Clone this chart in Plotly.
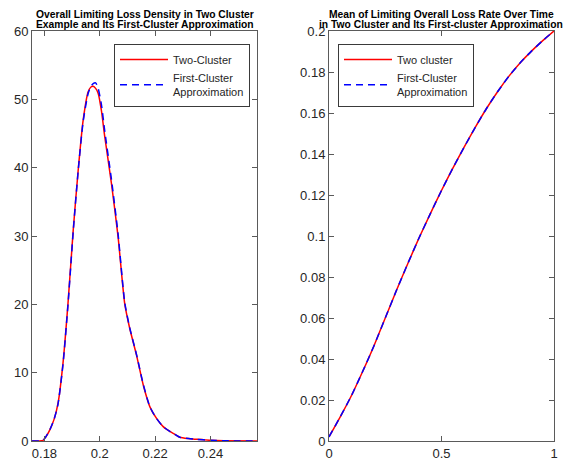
import plotly.graph_objects as go

# ---- Data: left panel (loss density) ----
loss_x = [0.1755, 0.178, 0.1795, 0.1805, 0.1819, 0.1835, 0.1849, 0.1867, 0.1885, 0.1904,
          0.1922, 0.1940, 0.1958, 0.1968, 0.1976, 0.1985, 0.1994, 0.2006, 0.2018, 0.2042,
          0.2066, 0.2090, 0.2108, 0.2133, 0.2157, 0.2181, 0.2205, 0.2229, 0.2253, 0.2270,
          0.2289, 0.2320, 0.2349, 0.2398, 0.2450, 0.2568]
density_two = [0, 0, 0.1, 0.6, 1.6, 3.2, 5.5, 11.4, 20.1, 30.9,
               39.7, 47.0, 51.1, 51.8, 51.9, 51.6, 50.9, 48.3, 44.5, 37.7,
               29.9, 20.1, 16.5, 12.5, 8.2, 5.0, 3.3, 2.1, 1.4, 1.0,
               0.55, 0.35, 0.25, 0.1, 0.03, 0]
density_first = [0, 0, 0.1, 0.6, 1.6, 3.2, 5.4, 11.2, 19.9, 30.7,
                 39.6, 46.8, 50.9, 51.9, 52.3, 52.4, 51.6, 49.2, 45.3, 38.3,
                 30.3, 20.3, 16.6, 12.6, 8.3, 5.0, 3.3, 2.1, 1.4, 1.0,
                 0.55, 0.35, 0.25, 0.1, 0.03, 0]

# ---- Data: right panel (mean loss rate over time) ----
time_t = [0, 0.05, 0.1, 0.15, 0.2, 0.25, 0.3, 0.35, 0.4, 0.45, 0.5, 0.55, 0.6, 0.65,
          0.7, 0.75, 0.8, 0.85, 0.9, 0.95, 1.0]
mean_two = [0.002, 0.0118, 0.0222, 0.0340, 0.0465, 0.0600, 0.0735, 0.0865, 0.0990, 0.1108,
            0.1222, 0.1330, 0.1432, 0.1530, 0.1622, 0.1705, 0.1780, 0.1845, 0.1902, 0.1953, 0.2]
mean_first = [0.002, 0.0118, 0.0222, 0.0340, 0.0465, 0.0600, 0.0735, 0.0865, 0.0990, 0.1108,
              0.1222, 0.1330, 0.1432, 0.1530, 0.1622, 0.1705, 0.1780, 0.1845, 0.1902, 0.1953, 0.2]

# ---- Tick labels ----
left_xticks = [0.18, 0.2, 0.22, 0.24]
left_xtext = ["0.18", "0.2", "0.22", "0.24"]
left_yticks = [0, 10, 20, 30, 40, 50, 60]
right_xticks = [0, 0.5, 1]
right_xtext = ["0", "0.5", "1"]
right_yticks = [0, 0.02, 0.04, 0.06, 0.08, 0.1, 0.12, 0.14, 0.16, 0.18, 0.2]
right_ytext = ["0", "0.02", "0.04", "0.06", "0.08", "0.1", "0.12", "0.14", "0.16", "0.18", "0.2"]

titles = [
    ["Overall Limiting Loss Density in Two Cluster", "Example and Its First-Cluster Approximation"],
    ["Mean of Limiting Overall Loss Rate Over Time", "in Two Cluster and Its First-cluster Approximation"],
]

FONT = "Liberation Sans, Arial, sans-serif"
TXT = "#262626"
AX = "#5a5a5a"
RED = "#FF0000"
BLUE = "#0000FF"

# page body has an 8px margin: figure is sized to fill the window after that offset
OFF = 8
W, H = 573 - OFF, 468 - OFF


def px(xp):
    return (xp - OFF) / W


def py(yp):
    return (468 - yp) / H


fig = go.Figure()
fig.add_trace(go.Scatter(x=loss_x, y=density_two, mode="lines", name="Two-Cluster",
                         line=dict(color=RED, width=1.5, shape="spline", smoothing=0.6),
                         xaxis="x", yaxis="y", legend="legend"))
fig.add_trace(go.Scatter(x=loss_x, y=density_first, mode="lines", name="First-Cluster<br>Approximation",
                         line=dict(color=BLUE, width=1.5, dash="7px,5px", shape="spline", smoothing=0.6),
                         xaxis="x", yaxis="y", legend="legend"))
fig.add_trace(go.Scatter(x=time_t, y=mean_two, mode="lines", name="Two cluster",
                         line=dict(color=RED, width=1.5, shape="spline", smoothing=0.6),
                         xaxis="x2", yaxis="y2", legend="legend2"))
fig.add_trace(go.Scatter(x=time_t, y=mean_first, mode="lines", name="First-Cluster<br>Approximation",
                         line=dict(color=BLUE, width=1.5, dash="7px,5px", shape="spline", smoothing=0.6),
                         xaxis="x2", yaxis="y2", legend="legend2"))

axis_common = dict(showline=True, linecolor=AX, linewidth=1, mirror="ticks", ticks="inside",
                   ticklen=5, tickcolor=AX, showgrid=False, zeroline=False, automargin=False,
                   tickfont=dict(family=FONT, size=13, color=TXT))

xd1 = [px(32), px(257)]
xd2 = [px(329), px(554)]
yd = [py(441), py(31)]

legend_common = dict(bgcolor="white", bordercolor="#3a3a3a", borderwidth=1,
                     font=dict(family=FONT, size=11, color=TXT), xanchor="left", yanchor="top",
                     itemwidth=48, tracegroupgap=0)

fig.update_layout(
    width=W, height=H,
    margin=dict(l=0, r=0, t=0, b=0, pad=0, autoexpand=False),
    paper_bgcolor="white", plot_bgcolor="white",
    showlegend=True,
    xaxis=dict(domain=xd1, range=[0.1755, 0.2568], tickvals=left_xticks, ticktext=left_xtext,
               anchor="y", **axis_common),
    yaxis=dict(domain=yd, range=[0, 60], tickvals=left_yticks, anchor="x", **axis_common),
    xaxis2=dict(domain=xd2, range=[0, 1], tickvals=right_xticks, ticktext=right_xtext,
                anchor="y2", **axis_common),
    yaxis2=dict(domain=yd, range=[0, 0.2], tickvals=right_yticks, ticktext=right_ytext,
                anchor="x2", **axis_common),
    legend=dict(x=px(114), y=py(44), **legend_common),
    legend2=dict(x=px(338), y=py(44), **legend_common),
)

for i, (l1, l2) in enumerate(titles):
    cx = (xd1[0] + xd1[1]) / 2 if i == 0 else (xd2[0] + xd2[1]) / 2
    fig.add_annotation(text="<b>" + l1 + "</b>", x=cx, y=1, xref="paper", yref="paper",
                       xanchor="center", yanchor="top", showarrow=False, borderpad=0,
                       font=dict(family=FONT, size=10.3, color="black"))
    fig.add_annotation(text="<b>" + l2 + "</b>", x=cx, y=py(31), xref="paper", yref="paper",
                       xanchor="center", yanchor="bottom", showarrow=False, borderpad=0,
                       font=dict(family=FONT, size=10.3, color="black"))

fig.write_html("out.html")
